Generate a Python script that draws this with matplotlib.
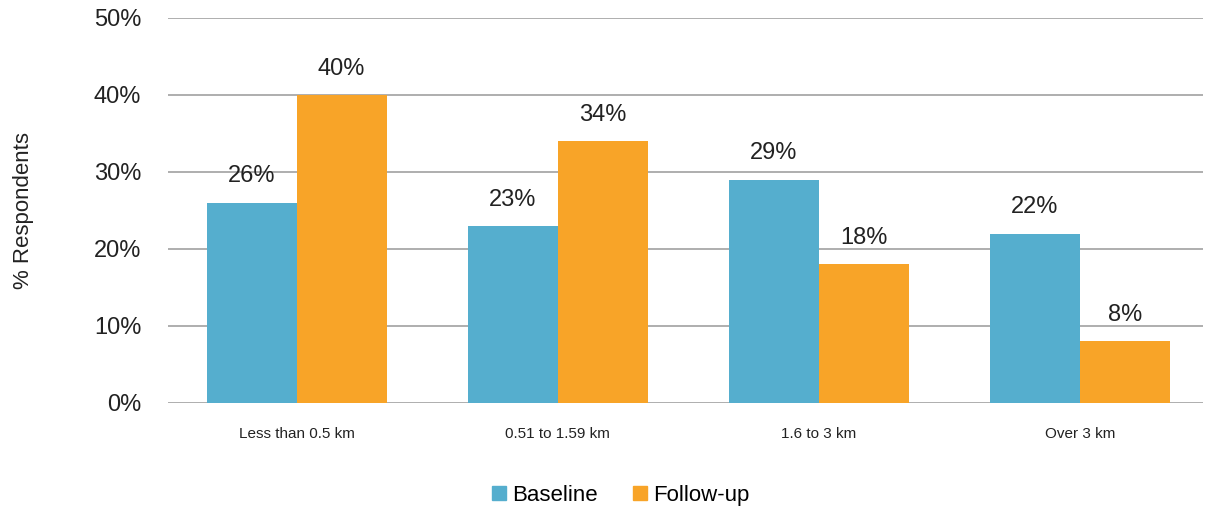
import numpy as np
import matplotlib.pyplot as plt
from matplotlib.patches import Patch

# data
categories = ['Less than 0.5 km', '0.51 to 1.59 km', '1.6 to 3 km', 'Over 3 km']
baseline = [26, 23, 29, 22]
follow_up = [40, 34, 18, 8]
series_names = ['Baseline', 'Follow-up']
y_ticks = [0, 10, 20, 30, 40, 50]

blue = '#55AECE'
orange = '#F8A428'

plt.rcParams['font.family'] = ['Liberation Sans', 'DejaVu Sans']

fig = plt.figure(figsize=(12.06, 5.12), dpi=100)
ax = fig.add_axes([0.139, 0.213, 0.8585, 0.752])

x = np.arange(len(categories))
w = 0.345

b1 = ax.bar(x - w / 2, baseline, w, color=blue, zorder=3)
b2 = ax.bar(x + w / 2, follow_up, w, color=orange, zorder=3)

for bars, vals in [(b1, baseline), (b2, follow_up)]:
    for r, v in zip(bars, vals):
        ax.annotate(f'{v}%', (r.get_x() + r.get_width() / 2, v),
                    xytext=(0, 11), textcoords='offset points',
                    ha='center', va='bottom', fontsize=17, color='#222222')

ax.set_xlim(-0.494, 3.471)
ax.set_ylim(0, 50)
ax.set_yticks(y_ticks)
ax.set_yticklabels([f'{t}%' for t in y_ticks], fontsize=17, color='#222222')
ax.set_xticks(x)
ax.set_xticklabels(categories, fontsize=11, color='#222222')
ax.tick_params(axis='y', length=0, pad=19)
ax.tick_params(axis='x', length=0, pad=17)

ax.grid(axis='y', color='#A8A8A8', linewidth=1.3, zorder=0)
for s in ax.spines.values():
    s.set_visible(False)

ax.set_ylabel('% Respondents', fontsize=16, color='#222222')
ax.yaxis.set_label_coords(-0.129, 0.5)

handles = [Patch(color=blue), Patch(color=orange)]
fig.legend(handles, series_names, loc='center', bbox_to_anchor=(0.515, 0.033),
           ncol=2, frameon=False, fontsize=16, handlelength=0.6, handleheight=0.6,
           handletextpad=0.3, columnspacing=1.6)

fig.savefig('out.png', dpi=100)
